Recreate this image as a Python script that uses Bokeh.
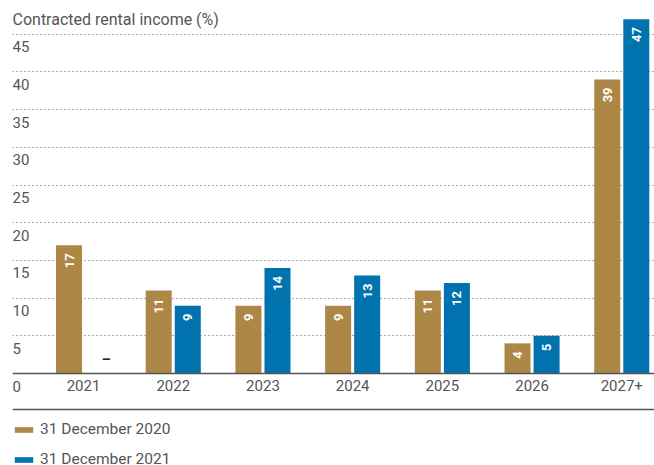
import numpy as np
from bokeh.plotting import figure
from bokeh.models import Range1d, FixedTicker, Span, Legend, LegendItem
from bokeh.core.properties import value
from bokeh.embed import file_html
from bokeh.resources import INLINE

# ---- data ----
years = ["2021", "2022", "2023", "2024", "2025", "2026", "2027+"]
dec_2020 = [17, 11, 9, 9, 11, 4, 39]
dec_2021 = [np.nan, 9, 14, 13, 12, 5, 47]
y_ticks = [0, 5, 10, 15, 20, 25, 30, 35, 40, 45]
y_tick_labels = [str(t) for t in y_ticks]
series_names = ["31 December 2020", "31 December 2021"]
title_text = "Contracted rental income (%)"
missing_label = "\u2013"

# ---- style / layout ----
BROWN = "#AD8745"
BLUE = "#0072AE"
TEXT = "#555555"
LINE = "#555555"
FONT = "Roboto"
OFF = 0.162
BAR_W = 0.29
PX_PER_UNIT = 7.54          # vertical scale in pixels per percentage point
SEPARATOR_GAP_PX = 36       # distance of the legend separator below the zero line

idx = np.arange(len(years))
x20 = idx - OFF
x21 = idx + OFF
v21 = np.array(dec_2021, dtype=float)
has21 = ~np.isnan(v21)

p = figure(width=654, height=465, output_backend="svg", toolbar_location=None,
           x_range=Range1d(-0.792, 6.365), y_range=Range1d(-12.2, 48.41),
           x_axis_location=None, y_axis_location=None,
           min_border_left=12, min_border_right=0, min_border_top=8, min_border_bottom=0)
p.outline_line_color = None
p.background_fill_color = "white"
p.border_fill_color = "white"
p.xgrid.visible = False
p.ygrid.ticker = FixedTicker(ticks=y_ticks[1:])
p.ygrid.grid_line_color = LINE
p.ygrid.grid_line_dash = "1 3"
p.ygrid.grid_line_width = 1.2

# zero line and separator above the legend
p.add_layout(Span(location=0, dimension="width", line_color=LINE, line_width=1.5))
p.add_layout(Span(location=-SEPARATOR_GAP_PX / PX_PER_UNIT, dimension="width",
                  line_color=LINE, line_width=1.5))

r20 = p.vbar(x=x20, top=dec_2020, width=BAR_W, bottom=0, fill_color=BROWN, line_color=None)
r21 = p.vbar(x=x21[has21], top=v21[has21], width=BAR_W, bottom=0, fill_color=BLUE, line_color=None)

lab_kw = dict(angle=np.pi / 2, text_align="right", text_baseline="middle", y_offset=8,
              text_font=value(FONT), text_font_size="13px", text_font_style="bold",
              text_color="white")
p.text(x=x20, y=dec_2020, text=[str(v) for v in dec_2020], **lab_kw)
p.text(x=x21[has21], y=v21[has21], text=[str(int(v)) for v in v21[has21]], **lab_kw)
n_missing = int((~has21).sum())
p.text(x=x21[~has21], y=np.zeros(n_missing), text=[missing_label] * n_missing,
       text_align="center", text_baseline="middle", y_offset=-15, x_offset=8,
       text_font=value(FONT), text_font_size="14px", text_font_style="bold", text_color="#222222")

# category labels
p.text(x=idx, y=np.zeros(len(years)), text=years, text_align="center", text_baseline="top",
       y_offset=6, text_font=value(FONT), text_font_size="15px", text_color=TEXT)
# y tick labels
p.text(x=[p.x_range.start] * len(y_ticks), y=y_ticks, text=y_tick_labels,
       text_align="left", text_baseline="top", y_offset=7,
       text_font=value(FONT), text_font_size="15px", text_color=TEXT)
# title
p.text(x=[p.x_range.start], y=[p.y_range.end], text=[title_text], text_align="left",
       text_baseline="top", y_offset=1, text_font=value(FONT), text_font_size="16px",
       text_color=TEXT)

legend = Legend(items=[LegendItem(label=series_names[0], renderers=[r20]),
                       LegendItem(label=series_names[1], renderers=[r21])],
                location=(0, -3), orientation="vertical",
                glyph_width=23, glyph_height=7, label_standoff=5, spacing=12,
                padding=0, margin=0, border_line_color=None, background_fill_alpha=0,
                label_text_font=FONT, label_text_font_size="15.5px", label_text_color=TEXT,
                label_height=14)
p.add_layout(legend)

open("out.html", "w").write(file_html(p, INLINE))
